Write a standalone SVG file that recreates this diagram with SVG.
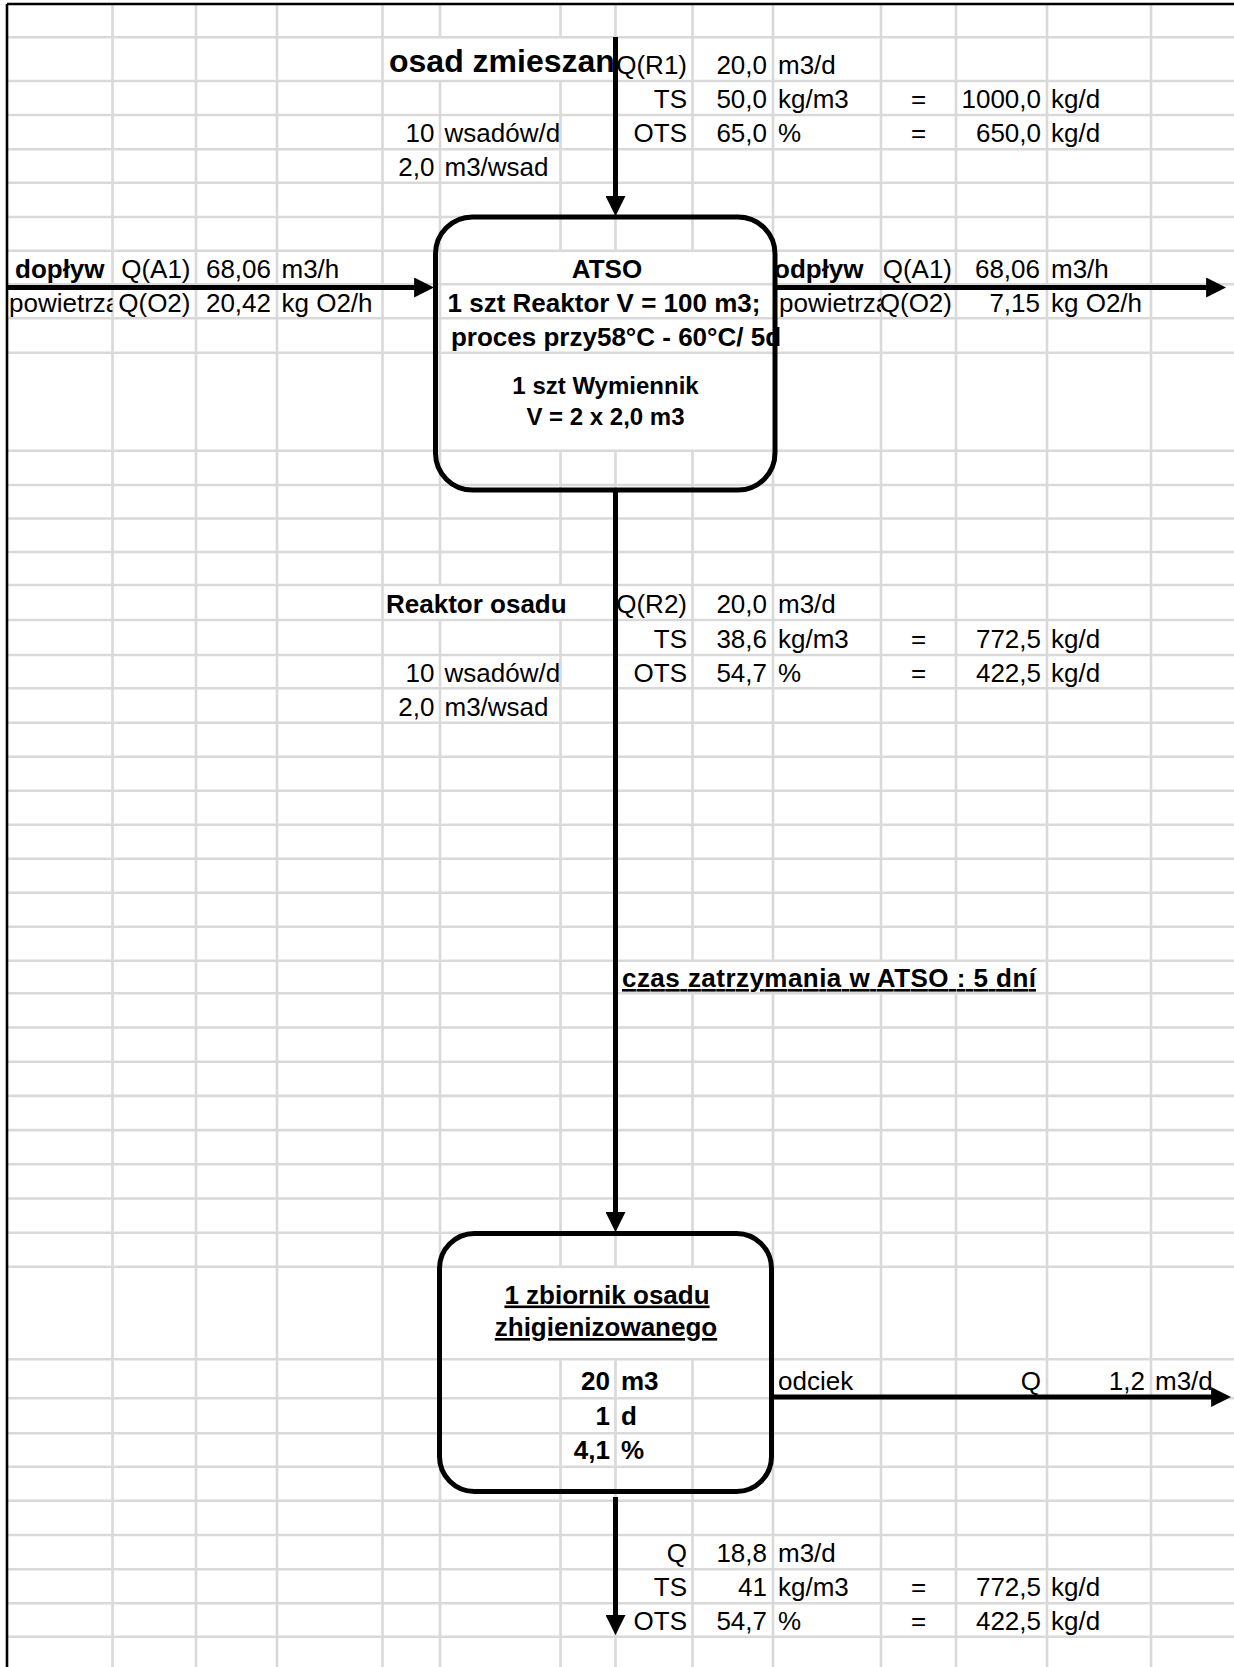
<svg xmlns="http://www.w3.org/2000/svg" width="1234" height="1667" viewBox="0 0 1234 1667">
<defs>
<style>
.g{stroke:#d9d9d9;stroke-width:2.6;fill:none}
.b{stroke:#000;stroke-width:2.6;fill:none}
text{font-family:"Liberation Sans",Arial,sans-serif;font-size:26px;fill:#000}
.bd{font-weight:bold}
.e{text-anchor:end}
.m{text-anchor:middle}
.u{text-decoration:underline}
.box{fill:none;stroke:#000;stroke-width:5}
.ar{stroke:#000;stroke-width:5;fill:none;marker-end:url(#ah)}
</style>
<marker id="ah" markerUnits="userSpaceOnUse" markerWidth="20" markerHeight="20" viewBox="0 0 18 18" refX="8" refY="9" orient="auto">
<path d="M0,0 L18,9 L0,18 z" fill="#000"/>
</marker>
<clipPath id="clA"><rect x="7" y="284" width="105.5" height="34"/></clipPath>
<clipPath id="clJ"><rect x="773" y="284" width="108" height="34"/></clipPath>
</defs>
<rect x="0" y="0" width="1234" height="1667" fill="#fff"/>
<g id="grid">
<path class="g" d="M7 37.3H1234M7 81H1234M7 115H1234M7 149.3H1234M7 182.7H1234M7 217H1234M7 250.7H1234M7 284.3H1234M7 318.3H1234M7 352.7H1234M7 450.7H1234M7 485H1234M7 518.5H1234M7 552H1234M7 585H1234M7 620H1234M7 655H1234M7 688.3H1234M7 722.7H1234M7 756.7H1234M7 790.7H1234M7 824.7H1234M7 858.7H1234M7 892.7H1234M7 926.7H1234M7 960.7H1234M7 993.3H1234M7 1027.5H1234M7 1061.7H1234M7 1095.9H1234M7 1130.1H1234M7 1164.3H1234M7 1198.5H1234M7 1232.7H1234M7 1266.7H1234M7 1359.3H1234M7 1398.3H1234M7 1433.3H1234M7 1466.7H1234M7 1500.7H1234M7 1535H1234M7 1569.3H1234M7 1603.3H1234M7 1636.7H1234"/>
<path class="g" d="M112.5 4V1667M196 4V1667M277 4V1667M382.5 4V1667M440 4V37.3M440 81V585M440 620V1667M560.5 4V37.3M560.5 81V250.7M560.5 450.7V585M560.5 620V1266.7M560.5 1359.3V1667M615.5 4V250.7M615.5 450.7V1266.7M615.5 1359.3V1667M692.5 4V250.7M692.5 450.7V960.7M692.5 993.3V1266.7M692.5 1359.3V1667M773 4V250.7M773 450.7V960.7M773 993.3V1667M881 4V960.7M881 993.3V1667M956 4V960.7M956 993.3V1667M1047 4V1667M1151 4V1667"/>
<path class="b" d="M7 4H1234M7 4V1667"/>
</g>
<g id="sheet-text">
<text class="bd" x="389" y="72" style="font-size:32px">osad zmieszan</text>
<text class="e" x="687" y="74">Q(R1)</text>
<text class="e" x="767" y="74">20,0</text>
<text x="778" y="74">m3/d</text>
<text class="e" x="687" y="108">TS</text>
<text class="e" x="767" y="108">50,0</text>
<text x="778" y="108">kg/m3</text>
<text class="m" x="918.5" y="108">=</text>
<text class="e" x="1041" y="108">1000,0</text>
<text x="1051" y="108">kg/d</text>
<text class="e" x="434.5" y="142">10</text>
<text x="444.5" y="142">wsadów/d</text>
<text class="e" x="687" y="142">OTS</text>
<text class="e" x="767" y="142">65,0</text>
<text x="778" y="142">%</text>
<text class="m" x="918.5" y="142">=</text>
<text class="e" x="1041" y="142">650,0</text>
<text x="1051" y="142">kg/d</text>
<text class="e" x="434.5" y="175.7">2,0</text>
<text x="444.5" y="175.7">m3/wsad</text>
<text class="bd" x="15" y="277.5">dopływ</text>
<text class="e" x="190.5" y="277.5">Q(A1)</text>
<text class="e" x="271" y="277.5">68,06</text>
<text x="281.5" y="277.5">m3/h</text>
<text x="9" y="311.5" clip-path="url(#clA)">powietrza</text>
<text class="e" x="190.5" y="311.5">Q(O2)</text>
<text class="e" x="271" y="311.5">20,42</text>
<text x="281.5" y="311.5">kg O2/h</text>
<text class="bd" x="774" y="277.5">odpływ</text>
<text class="e" x="952" y="277.5">Q(A1)</text>
<text class="e" x="1040" y="277.5">68,06</text>
<text x="1051" y="277.5">m3/h</text>
<text x="779" y="311.5" clip-path="url(#clJ)">powietrza</text>
<text class="e" x="952" y="311.5">Q(O2)</text>
<text class="e" x="1040" y="311.5">7,15</text>
<text x="1051" y="311.5">kg O2/h</text>
<text class="bd" x="386" y="613">Reaktor osadu</text>
<text class="e" x="687" y="613">Q(R2)</text>
<text class="e" x="767" y="613">20,0</text>
<text x="778" y="613">m3/d</text>
<text class="e" x="687" y="648">TS</text>
<text class="e" x="767" y="648">38,6</text>
<text x="778" y="648">kg/m3</text>
<text class="m" x="918.5" y="648">=</text>
<text class="e" x="1041" y="648">772,5</text>
<text x="1051" y="648">kg/d</text>
<text class="e" x="434.5" y="681.5">10</text>
<text x="444.5" y="681.5">wsadów/d</text>
<text class="e" x="687" y="681.5">OTS</text>
<text class="e" x="767" y="681.5">54,7</text>
<text x="778" y="681.5">%</text>
<text class="m" x="918.5" y="681.5">=</text>
<text class="e" x="1041" y="681.5">422,5</text>
<text x="1051" y="681.5">kg/d</text>
<text class="e" x="434.5" y="715.5">2,0</text>
<text x="444.5" y="715.5">m3/wsad</text>
<text class="bd u" x="622" y="987" textLength="414">czas zatrzymania w ATSO : 5 dní</text>
<text x="778" y="1390">odciek</text>
<text class="e" x="1041" y="1390">Q</text>
<text class="e" x="1145" y="1390">1,2</text>
<text x="1155" y="1390">m3/d</text>
<text class="e" x="687" y="1562">Q</text>
<text class="e" x="767" y="1562">18,8</text>
<text x="778" y="1562">m3/d</text>
<text class="e" x="687" y="1596">TS</text>
<text class="e" x="767" y="1596">41</text>
<text x="778" y="1596">kg/m3</text>
<text class="m" x="918.5" y="1596">=</text>
<text class="e" x="1041" y="1596">772,5</text>
<text x="1051" y="1596">kg/d</text>
<text class="e" x="687" y="1629.5">OTS</text>
<text class="e" x="767" y="1629.5">54,7</text>
<text x="778" y="1629.5">%</text>
<text class="m" x="918.5" y="1629.5">=</text>
<text class="e" x="1041" y="1629.5">422,5</text>
<text x="1051" y="1629.5">kg/d</text>
</g>
<g id="node-atso">
<rect class="box" x="435.5" y="217" width="339.5" height="273" rx="37" ry="37"/>
<text class="bd m" x="607" y="277.5">ATSO</text>
<text class="bd m" x="604" y="311.5">1 szt Reaktor V = 100 m3;</text>
<text class="bd m" x="616" y="345.5">proces przy58°C - 60°C/ 5d</text>
<text class="bd m" x="605.5" y="394" style="font-size:24px">1 szt Wymiennik</text>
<text class="bd m" x="605.5" y="425" style="font-size:24px">V = 2 x 2,0 m3</text>
</g>
<g id="node-zbiornik">
<rect class="box" x="439.5" y="1233.5" width="332" height="258" rx="35" ry="35"/>
<text class="bd m u" x="607" y="1303.5">1 zbiornik osadu</text>
<text class="bd m u" x="606" y="1336">zhigienizowanego</text>
<text class="bd e" x="610" y="1390">20</text>
<text class="bd" x="621" y="1390">m3</text>
<text class="bd e" x="610" y="1424.5">1</text>
<text class="bd" x="621" y="1424.5">d</text>
<text class="bd e" x="610" y="1458.5">4,1</text>
<text class="bd" x="621" y="1458.5">%</text>
</g>
<g id="connectors">
<path class="ar" d="M615.5 37V205"/>
<path class="ar" d="M7 287.5H423"/>
<path class="ar" d="M777 287.5H1215"/>
<path class="ar" d="M615.5 492V1221"/>
<path class="ar" d="M774 1397H1220"/>
<path class="ar" d="M615.5 1497V1624"/>
</g>
</svg>
